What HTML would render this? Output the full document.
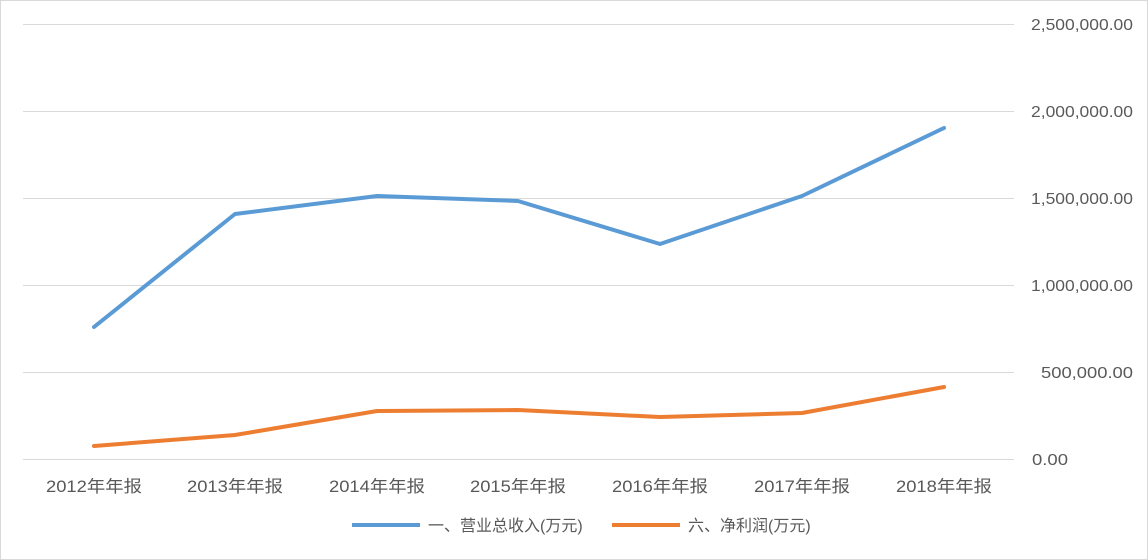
<!DOCTYPE html>
<html><head><meta charset="utf-8"><style>
body{margin:0;background:#fff;}
svg{display:block;font-family:"Liberation Sans","Noto Sans CJK SC",sans-serif;}
</style></head><body>
<svg width="1148" height="560" xmlns="http://www.w3.org/2000/svg">
<rect x="0.5" y="0.5" width="1147" height="559" fill="#fff" stroke="#d9d9d9"/>
<g stroke="#d9d9d9" stroke-width="1">
<line x1="23" x2="1014" y1="24.5" y2="24.5"/>
<line x1="23" x2="1014" y1="111.5" y2="111.5"/>
<line x1="23" x2="1014" y1="198.5" y2="198.5"/>
<line x1="23" x2="1014" y1="285.5" y2="285.5"/>
<line x1="23" x2="1014" y1="372.5" y2="372.5"/>
<line x1="23" x2="1014" y1="459.5" y2="459.5"/>
</g>
<g fill="#595959" font-size="15.5" text-anchor="start">
<text x="1031" y="30" textLength="102" lengthAdjust="spacingAndGlyphs">2,500,000.00</text>
<text x="1031" y="117" textLength="102" lengthAdjust="spacingAndGlyphs">2,000,000.00</text>
<text x="1031" y="204" textLength="102" lengthAdjust="spacingAndGlyphs">1,500,000.00</text>
<text x="1031" y="291" textLength="102" lengthAdjust="spacingAndGlyphs">1,000,000.00</text>
<text x="1041" y="378" textLength="92" lengthAdjust="spacingAndGlyphs">500,000.00</text>
<text x="1032" y="465" textLength="36" lengthAdjust="spacingAndGlyphs">0.00</text>
</g>
<g fill="#595959" font-size="16.5" text-anchor="middle">
<text x="94" y="492" textLength="96" lengthAdjust="spacingAndGlyphs">2012年年报</text>
<text x="235" y="492" textLength="96" lengthAdjust="spacingAndGlyphs">2013年年报</text>
<text x="377" y="492" textLength="96" lengthAdjust="spacingAndGlyphs">2014年年报</text>
<text x="518" y="492" textLength="96" lengthAdjust="spacingAndGlyphs">2015年年报</text>
<text x="660" y="492" textLength="96" lengthAdjust="spacingAndGlyphs">2016年年报</text>
<text x="802" y="492" textLength="96" lengthAdjust="spacingAndGlyphs">2017年年报</text>
<text x="944" y="492" textLength="96" lengthAdjust="spacingAndGlyphs">2018年年报</text>
</g>
<polyline fill="none" stroke="#5b9bd5" stroke-width="4" stroke-linejoin="round" stroke-linecap="round" points="94,327 235,214 377,196 518,201 660,244 802,196 944,128"/>
<polyline fill="none" stroke="#ed7d31" stroke-width="4" stroke-linejoin="round" stroke-linecap="round" points="94,446 235,435 377,411 518,410 660,417 802,413 944,387"/>
<line x1="352" x2="420" y1="525" y2="525" stroke="#5b9bd5" stroke-width="4"/>
<text x="428" y="531" fill="#595959" font-size="16">一、营业总收入(万元)</text>
<line x1="612" x2="680" y1="525" y2="525" stroke="#ed7d31" stroke-width="4"/>
<text x="688" y="531" fill="#595959" font-size="16">六、净利润(万元)</text>
</svg>
</body></html>
